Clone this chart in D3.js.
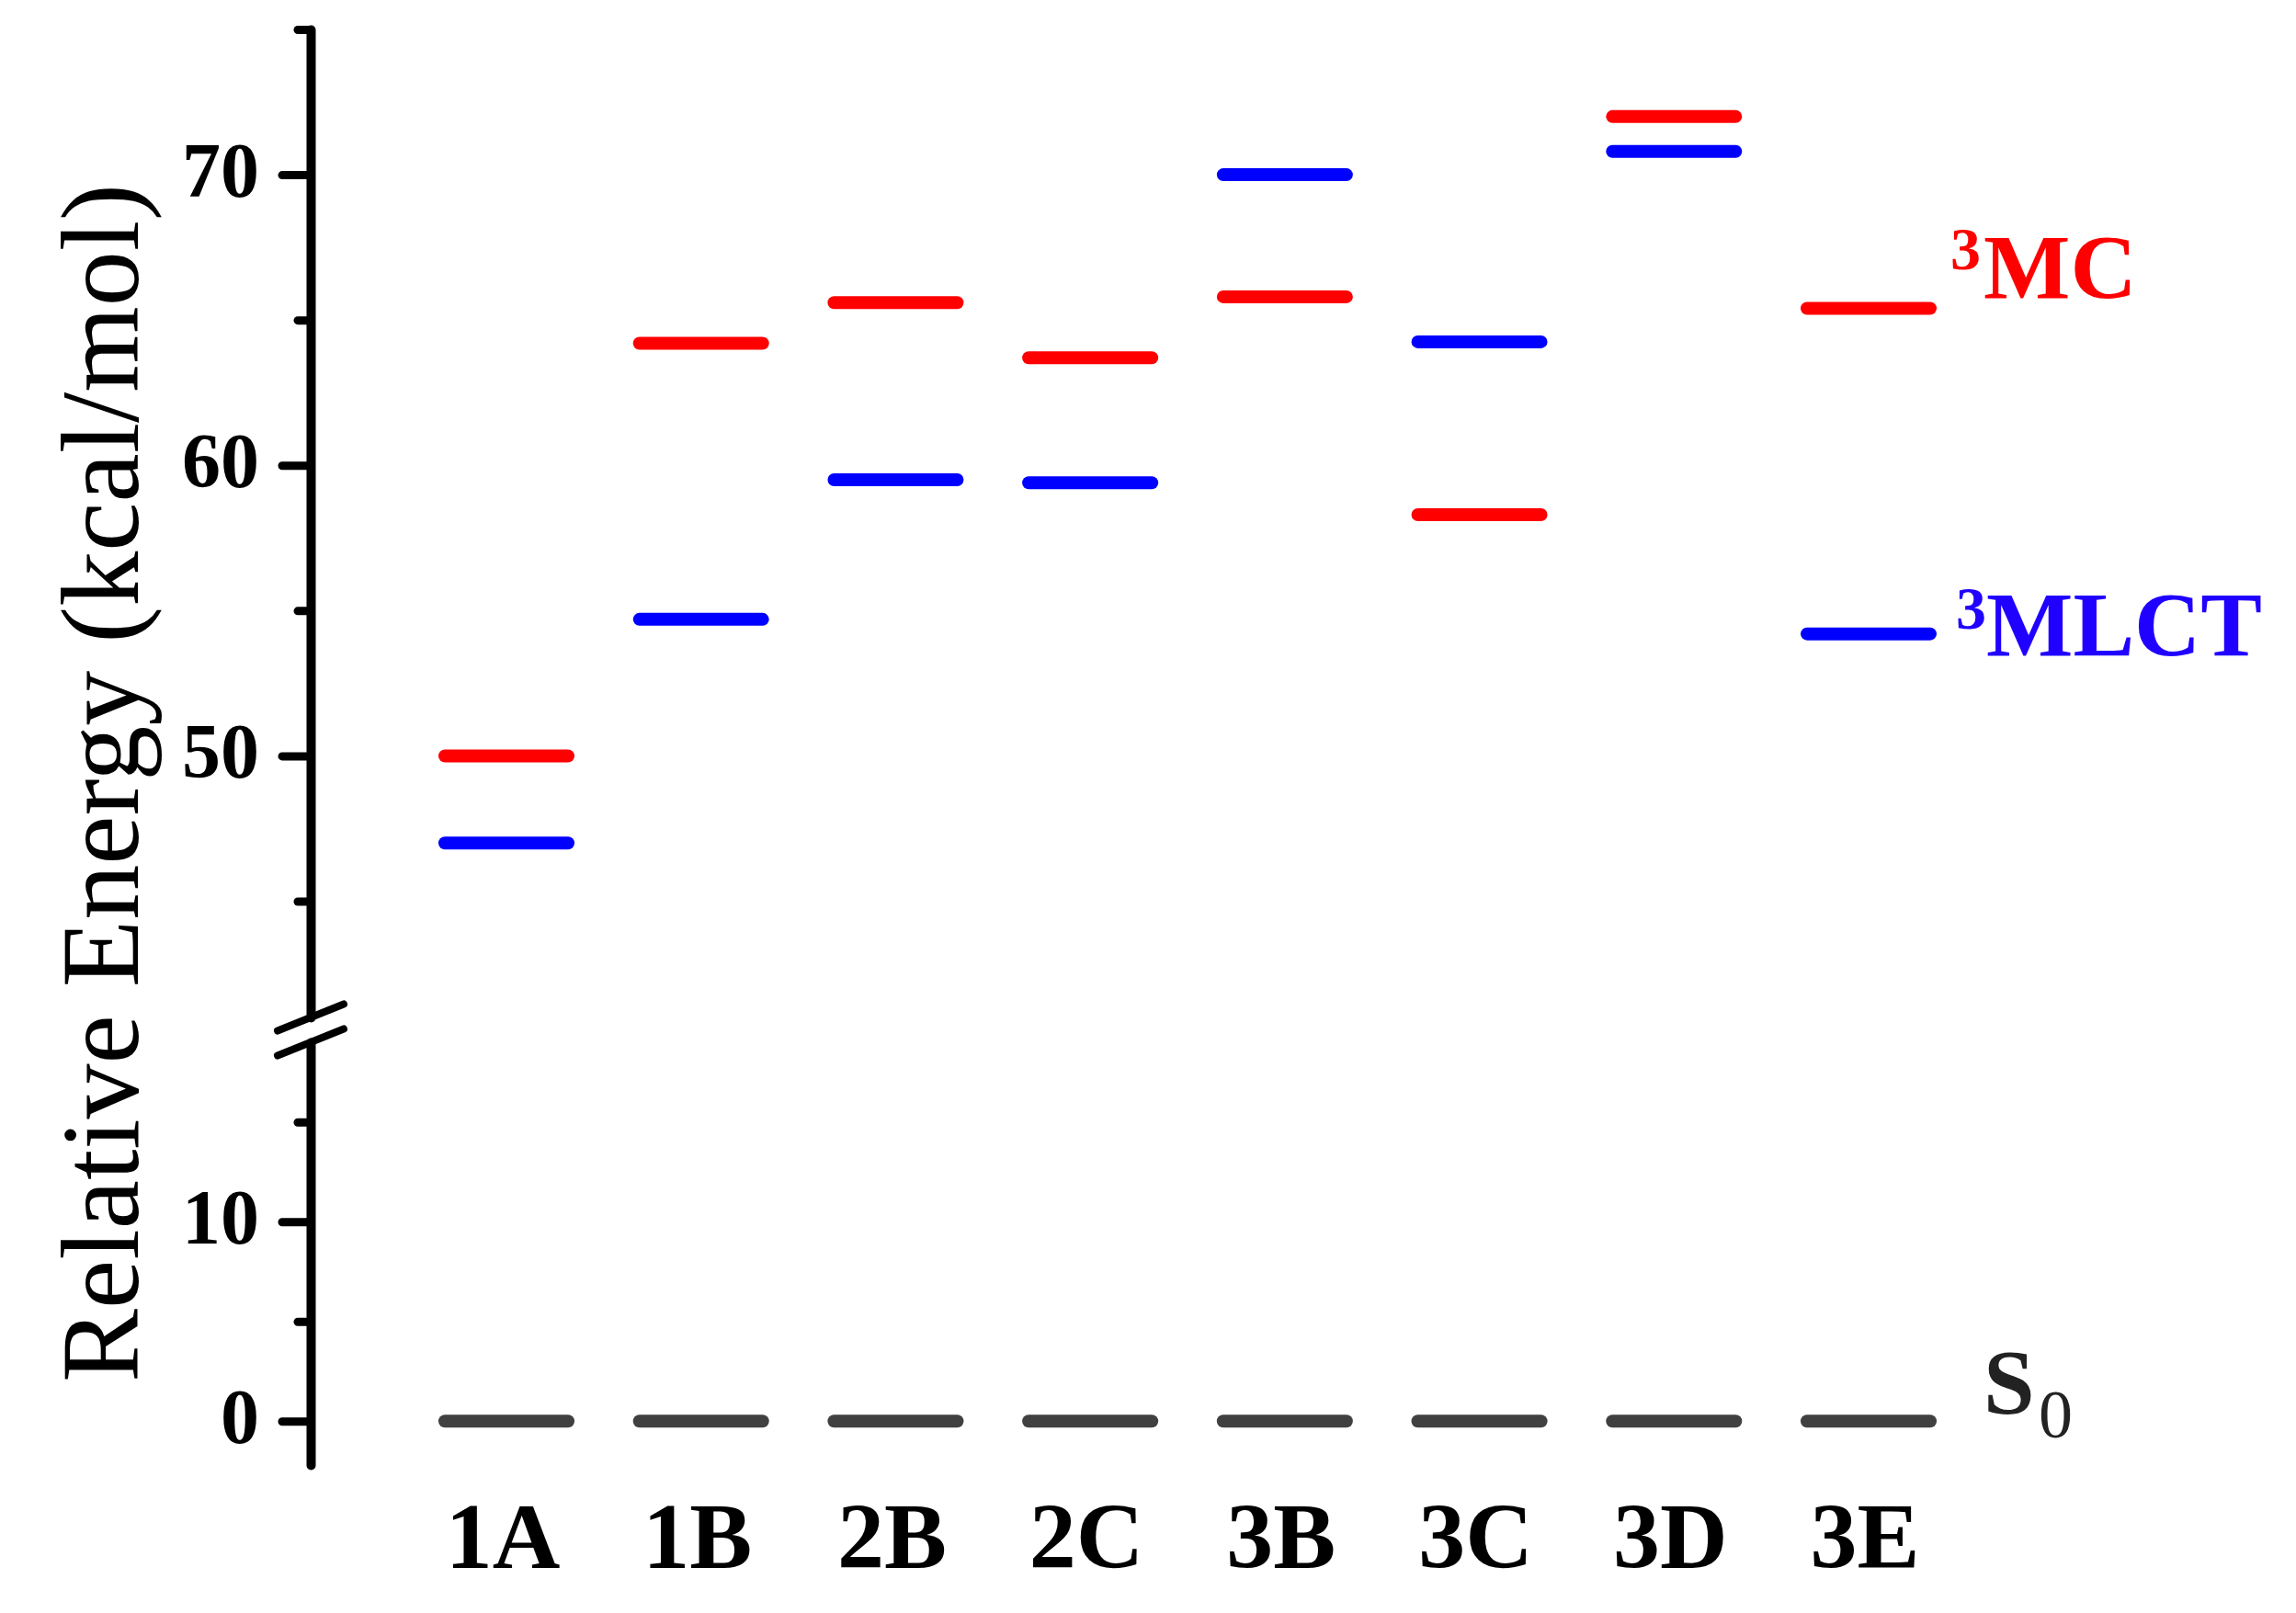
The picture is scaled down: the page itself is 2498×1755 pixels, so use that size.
<!DOCTYPE html>
<html>
<head>
<meta charset="utf-8">
<script src="https://cdn.jsdelivr.net/npm/d3@7"></script>
<style>
    body { margin: 0; background: #fff; }
    svg text { font-family: "Liberation Serif", "Times New Roman", Times, serif; }
</style>
</head>
<body>
<div id="plotSect"></div>
<script>
/* global d3 */

// data (kcal/mol)
let categories = ["1A", "1B", "2B", "2C", "3B", "3C", "3D", "3E"];
let mcValues = [50.0, 64.2, 65.6, 63.7, 65.8, 58.3, 72.0, 65.4];
let mlctValues = [47.0, 54.7, 59.5, 59.4, 70.0, 64.25, 70.8, 54.2];
let s0Values = [0, 0, 0, 0, 0, 0, 0, 0];

let upperMajorTicks = [50, 60, 70];
let upperMinorTicks = [45, 55, 65, 75];
let lowerMajorTicks = [0, 10];
let lowerMinorTicks = [5, 15];

// chart setup //

let SVGwidth = 2498,
    SVGheight = 1755,
    axisX = 338,
    barHalf = 67;

let svg = d3.select("#plotSect").append("svg")
    .attr("width", SVGwidth)
    .attr("height", SVGheight)
    .style("display", "block");

svg.append("rect")
    .attr("width", SVGwidth)
    .attr("height", SVGheight)
    .attr("fill", "#fff");

let xScale = d3.scalePoint().domain(categories).range([551, 2033]);

// broken y axis: two linear segments
let yUpper = d3.scaleLinear().domain([41, 75]).range([1107, 32]);
let yLower = d3.scaleLinear().domain([-2.2, 19]).range([1594, 1134]);

function drawAxis(scale, major, minor) {
    let g = svg.append("g")
        .attr("class", "yAxis")
        .attr("transform", "translate(" + axisX + ",0)");

    g.call(d3.axisLeft(scale)
        .tickValues(major)
        .tickSize(31)
        .tickSizeOuter(0)
        .tickPadding(25)
        .tickFormat(d3.format("d")));

    g.select(".domain")
        .attr("stroke", "#000")
        .attr("stroke-width", 10)
        .attr("stroke-linecap", "round");

    g.selectAll(".tick line")
        .attr("stroke", "#000")
        .attr("stroke-width", 9)
        .attr("stroke-linecap", "round");

    g.selectAll(".tick text")
        .attr("fill", "#000")
        .style("font-size", "84px")
        .style("font-weight", "bold")
        .attr("dy", "0.28em");

    let m = svg.append("g")
        .attr("class", "yAxisMinor")
        .attr("transform", "translate(" + axisX + ",0)");

    m.call(d3.axisLeft(scale)
        .tickValues(minor)
        .tickSize(14)
        .tickFormat(""));

    m.select(".domain").remove();
    m.selectAll(".tick line")
        .attr("stroke", "#000")
        .attr("stroke-width", 9)
        .attr("stroke-linecap", "round");
}

drawAxis(yUpper, upperMajorTicks, upperMinorTicks);
drawAxis(yLower, lowerMajorTicks, lowerMinorTicks);

// break marks
let breakYs = [yUpper.range()[0], yLower.range()[1]];
svg.selectAll(".breakMark")
    .data(breakYs)
    .enter().append("line")
    .attr("class", "breakMark")
    .attr("x1", axisX - 36)
    .attr("x2", axisX + 36)
    .attr("y1", function(d) { return d + 14.5; })
    .attr("y2", function(d) { return d - 14.5; })
    .attr("stroke", "#000")
    .attr("stroke-width", 8)
    .attr("stroke-linecap", "round");

svg.append("text")
    .attr("class", "yAxisLabel")
    .attr("transform", "translate(150,852) rotate(-90)")
    .style("text-anchor", "middle")
    .style("font-size", "120px")
    .attr("fill", "#000")
    .text("Relative Energy (kcal/mol)");

// category labels
svg.selectAll(".xLabel")
    .data(categories)
    .enter().append("text")
    .attr("class", "xLabel")
    .attr("x", function(d) { return xScale(d) - 4; })
    .attr("y", 1706)
    .style("text-anchor", "middle")
    .style("font-size", "102px")
    .style("font-weight", "bold")
    .attr("fill", "#000")
    .text(function(d) { return d; });

// energy levels
let levels = [
    {values: s0Values, scale: yLower, color: "#404040"},
    {values: mlctValues, scale: yUpper, color: "#0000ff"},
    {values: mcValues, scale: yUpper, color: "#ff0000"}
];

levels.forEach(function(lv) {
    svg.append("g").selectAll("line")
        .data(lv.values)
        .enter().append("line")
        .attr("class", "level")
        .attr("x1", function(d, i) { return xScale(categories[i]) - barHalf; })
        .attr("x2", function(d, i) { return xScale(categories[i]) + barHalf; })
        .attr("y1", function(d) { return lv.scale(d); })
        .attr("y2", function(d) { return lv.scale(d); })
        .attr("stroke", lv.color)
        .attr("stroke-width", 14)
        .attr("stroke-linecap", "round");
});

// state labels next to the last column
let last = categories.length - 1;

let mcY = yUpper(mcValues[last]);
svg.append("text")
    .attr("x", 2122).attr("y", mcY - 43)
    .style("font-size", "66px").style("font-weight", "bold")
    .attr("fill", "#ff0000").text("3");
svg.append("text")
    .attr("x", 2158).attr("y", mcY - 12)
    .style("font-size", "100px").style("font-weight", "bold")
    .attr("fill", "#ff0000").text("MC");

let mlctY = yUpper(mlctValues[last]);
svg.append("text")
    .attr("x", 2128).attr("y", mlctY - 6)
    .style("font-size", "66px").style("font-weight", "bold")
    .attr("fill", "#2000ff").text("3");
svg.append("text")
    .attr("x", 2161).attr("y", mlctY + 23)
    .style("font-size", "100px").style("font-weight", "bold")
    .attr("fill", "#2000ff").text("MLCT");

let s0Y = yLower(s0Values[last]);
svg.append("text")
    .attr("x", 2158).attr("y", s0Y - 9)
    .style("font-size", "100px").style("font-weight", "bold")
    .attr("fill", "#222").text("S");
svg.append("text")
    .attr("x", 2218).attr("y", s0Y + 18)
    .style("font-size", "74px")
    .attr("fill", "#222").text("0");
</script>
</body>
</html>
